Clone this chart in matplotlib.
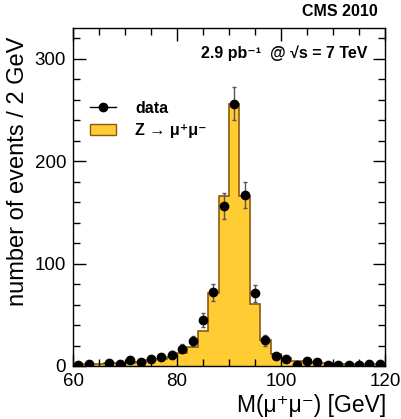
import numpy as np
import matplotlib.pyplot as plt
from matplotlib.lines import Line2D
from matplotlib.patches import Patch

plt.rcParams['font.family'] = ['Liberation Sans', 'DejaVu Sans']

# 2 GeV bins from 60 to 120
edges = np.arange(60, 122, 2)
centers = edges[:-1] + 1

# observed events per bin
data = [1, 2, 0, 3, 2, 6, 4, 7, 9, 11, 17, 24, 45, 72, 156,
        256, 167, 71, 25, 10, 7, 1, 5, 4, 1, 1, 1, 1, 2, 2]

# Z -> mu mu simulation, normalised
mc = [1.5, 2, 2, 2.5, 2.5, 3, 4, 5.5, 7, 9, 13, 19, 34, 71, 166,
      256, 166, 61, 25, 12, 8, 5, 3.5, 3, 2.5, 2, 1.5, 1.5, 1.5, 1.5]

fig = plt.figure(figsize=(4.02, 4.19), dpi=100)
ax = fig.add_axes([0.1816, 0.1265, 0.776, 0.8067])

ax.stairs(mc, edges, fill=True, facecolor='#ffcc33', edgecolor='#8b5a10',
          linewidth=1.2, zorder=1)

data = np.array(data, dtype=float)
keep = data > 0
ax.errorbar(centers[keep], data[keep], yerr=np.sqrt(data[keep]), fmt='o',
            color='black', ecolor='#555555', elinewidth=1, capsize=1.5,
            markersize=6, zorder=3)

ax.set_xlim(60, 120)
ax.set_ylim(0, 330)
ax.set_xticks([60, 80, 100, 120])
ax.set_xticks(np.arange(60, 121, 5), minor=True)
ax.set_yticks([0, 100, 200, 300])
ax.set_yticks(np.arange(0, 331, 20), minor=True)
ax.tick_params(which='both', direction='in', top=True, right=True,
               labelsize=13.5, width=1)
ax.tick_params(which='major', length=9, pad=5)
ax.tick_params(which='minor', length=5)
for s in ax.spines.values():
    s.set_linewidth(1)

fig.text(18 / 402, 1 - 37 / 419, 'number of events / 2 GeV', rotation=90,
         ha='center', va='top', fontsize=17)
fig.text(386 / 402, 1 - 405 / 419, 'M(μ⁺μ⁻) [GeV]', ha='right', va='center',
         fontsize=16.5)

fig.text(378 / 402, 1 - 12 / 419, 'CMS 2010', ha='right', va='center',
         fontsize=11.5, fontweight='bold')
ax.text(0.945, 0.925, '2.9 pb⁻¹  @ √s = 7 TeV', transform=ax.transAxes,
        ha='right', va='center', fontsize=11.5, fontweight='bold')

handles = [Line2D([], [], color='black', marker='o', markersize=6, lw=1),
           Patch(facecolor='#ffcc33', edgecolor='#8b5a10', linewidth=1)]
ax.legend(handles, ['data', 'Z → μ⁺μ⁻'], loc='upper left',
          bbox_to_anchor=(0.01, 0.828), frameon=False,
          prop={'size': 11.5, 'weight': 'bold'}, handlelength=1.6,
          handletextpad=1.2, labelspacing=0.48)

fig.savefig('out.png', dpi=100)
